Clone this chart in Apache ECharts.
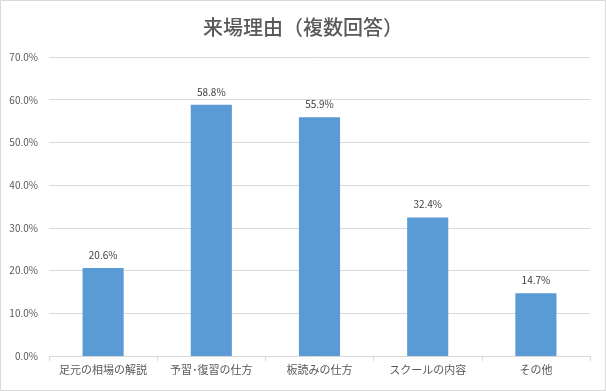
<!DOCTYPE html>
<html><head><meta charset="utf-8">
<script src="https://cdn.jsdelivr.net/npm/echarts@6/dist/echarts.min.js"></script>
<style>html,body{margin:0;padding:0;background:#fff}#c{width:606px;height:391px}</style>
</head><body><div id="c"></div>
<script>
const titleText = '来場理由（複数回答）';
const categories = ['足元の相場の解説', '予習･復習の仕方', '板読みの仕方', 'スクールの内容', 'その他'];
const values = [20.6, 58.8, 55.9, 32.4, 14.7];
const yMin = 0, yMax = 70, yStep = 10;

const chart = echarts.init(document.getElementById('c'), null, {renderer: 'canvas'});
const font = '"Noto Sans CJK JP", "Noto Sans", sans-serif';
chart.setOption({
  animation: false,
  backgroundColor: '#fff',
  title: {
    text: titleText, left: 'center', top: 12,
    textStyle: {fontFamily: font, fontSize: 20, fontWeight: 500, color: '#595959'}
  },
  graphic: [{type: 'rect', shape: {x: 0.5, y: 0.5, width: 605, height: 390},
    style: {fill: 'none', stroke: '#d9d9d9', lineWidth: 1}, silent: true}],
  grid: {left: 49, right: 16, top: 57, bottom: 35, containLabel: false},
  xAxis: {
    type: 'category', data: categories,
    axisLine: {lineStyle: {color: '#d9d9d9'}},
    axisTick: {show: true, length: 5, lineStyle: {color: '#d9d9d9'}},
    axisLabel: {fontFamily: font, fontSize: 11, color: '#595959', margin: 8, interval: 0}
  },
  yAxis: {
    type: 'value', min: yMin, max: yMax, interval: yStep,
    axisLine: {show: false}, axisTick: {show: false},
    splitLine: {lineStyle: {color: '#d9d9d9'}},
    axisLabel: {fontFamily: font, fontSize: 10, color: '#595959', margin: 11,
      formatter: v => v.toFixed(1) + '%'}
  },
  series: [{
    type: 'bar', data: values, barWidth: '38%',
    itemStyle: {color: '#5b9bd5'},
    label: {show: true, position: 'top', distance: 8, fontFamily: font, fontSize: 10, color: '#404040',
      formatter: p => p.value.toFixed(1) + '%'}
  }]
});
</script></body></html>
